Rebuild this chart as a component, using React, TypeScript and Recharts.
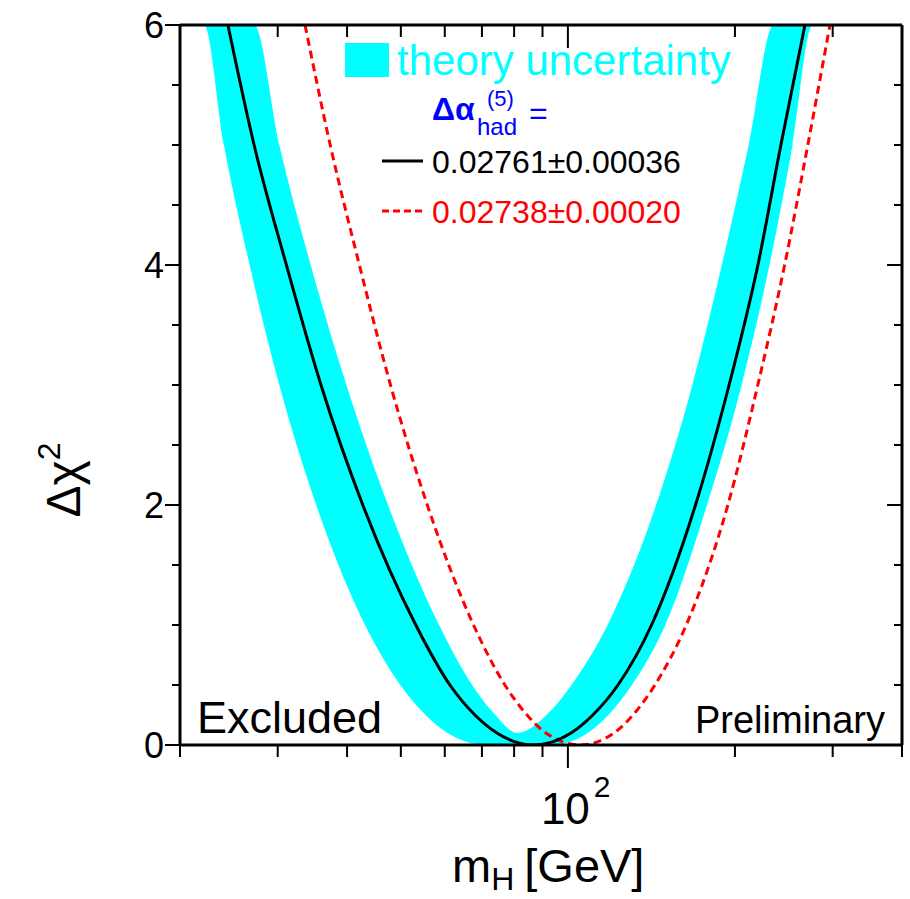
import React from "react";
import { ComposedChart, Area, Line, XAxis, YAxis } from "recharts";

// m_H values (GeV) and delta chi2
const bandUpperMass = [20, 27.2, 30.2, 34.4, 39.9, 47.4, 58.6, 67.2, 74.0, 81.0, 91.5, 101.5, 117.9, 144.2, 167.6, 189.4, 211.7, 234.9, 400];
const bandUpperChi2 = [6, 6, 5, 4, 3, 2, 1, 0.5, 0.25, 0.1, 0.25, 0.5, 1, 2, 3, 4, 5, 6, 6];

const bandLowerMass = [20, 22.1, 24.0, 26.7, 30.2, 35.2, 43.1, 49.9, 55.4, 60.7, 71.2, 93.6, 108.6, 118.3, 130.4, 149.8, 178.1, 205.6, 230.8, 254.0, 276.0, 400];
const bandLowerChi2 = [6, 6, 5, 4, 3, 2, 1, 0.5, 0.25, 0.1, 0, 0, 0.1, 0.25, 0.5, 1, 2, 3, 4, 5, 6, 6];

const blackMass = [24.4, 27.2, 31.1, 35.9, 42.7, 53.2, 61.3, 68.0, 74.5, 86.5, 101.3, 110.9, 123.1, 141.5, 169.8, 195.2, 220, 242, 267.4];
const blackChi2 = [6, 5, 4, 3, 2, 1, 0.5, 0.25, 0.1, 0, 0.1, 0.25, 0.5, 1, 2, 3, 4, 5, 6];

const redMass = [33.6, 37.3, 42.1, 47.9, 55.8, 67.6, 77.0, 84.4, 91.3, 105.2, 121.1, 131.0, 143.5, 163.4, 194.2, 219.9, 245.8, 270.6, 296.6];
const redChi2 = [6, 5, 4, 3, 2, 1, 0.5, 0.25, 0.1, 0, 0.1, 0.25, 0.5, 1, 2, 3, 4, 5, 6];

const xTicks = [20, 30, 40, 50, 60, 70, 80, 90, 100, 200, 300, 400];
const yTicks = [0, 0.5, 1, 1.5, 2, 2.5, 3, 3.5, 4, 4.5, 5, 5.5, 6];

const rows = (m: number[], c: number[]) => m.map((x, i) => ({ m: x, v: c[i] }));

const FONT = "'Liberation Sans', Arial, sans-serif";
const W = 910;
const H = 899;

const BottomTick = (props: any) => {
  const { x, y, payload } = props;
  const major = payload.value === 100;
  return (
    <g>
      <line x1={x} y1={y} x2={x} y2={y + (major ? 23 : 12)} stroke="#000" strokeWidth={2} />
      {major && (
        <text x={x - 27} y={y + 79} fontSize={44} fontFamily={FONT} fill="#000">
          10
          <tspan dx={4} dy={-27} fontSize={30}>2</tspan>
        </text>
      )}
    </g>
  );
};

const TopTick = (props: any) => {
  const { x, y, payload } = props;
  const major = payload.value === 100;
  return <line x1={x} y1={y} x2={x} y2={y + (major ? 23 : 12)} stroke="#000" strokeWidth={2} />;
};

const LeftTick = (props: any) => {
  const { x, y, payload } = props;
  const major = payload.value % 2 === 0;
  return (
    <g>
      <line x1={x} y1={y} x2={x - (major ? 15 : 8)} y2={y} stroke="#000" strokeWidth={2} />
      {major && (
        <text x={x - 16} y={y + 13} textAnchor="end" fontSize={36} fontFamily={FONT} fill="#000">
          {payload.value}
        </text>
      )}
    </g>
  );
};

const RightTick = (props: any) => {
  const { x, y, payload } = props;
  const major = payload.value % 2 === 0;
  return <line x1={x} y1={y} x2={x - (major ? 15 : 8)} y2={y} stroke="#000" strokeWidth={2} />;
};

const axisLine = { stroke: "#000", strokeWidth: 3 };

// frame axes (top + right), drawn in a second chart on top of the filled band
const FrameChart = () => (
  <ComposedChart width={W} height={H} margin={{ top: 24, right: 7, bottom: 154, left: 180 }}>
    <XAxis
      xAxisId="top"
      orientation="top"
      dataKey="m"
      type="number"
      scale="log"
      domain={[20, 400]}
      allowDataOverflow
      ticks={xTicks}
      interval={0}
      tick={<TopTick />}
      tickLine={false}
      tickSize={0}
      tickMargin={0}
      axisLine={axisLine}
      height={1}
    />
    <YAxis
      yAxisId="right"
      orientation="right"
      type="number"
      domain={[0, 6]}
      allowDataOverflow
      ticks={yTicks}
      interval={0}
      tick={<RightTick />}
      tickLine={false}
      tickSize={0}
      tickMargin={0}
      axisLine={axisLine}
      width={1}
    />
  </ComposedChart>
);

const Labels = () => (
  <svg width={W} height={H} style={{ position: "absolute", left: 0, top: 0, pointerEvents: "none" }}>
    <g fontFamily={FONT}>
      <rect x={345} y={43} width={44} height={34} fill="#00ffff" />
      <text x={397} y={75} fontSize={42} fill="#00ffff">theory uncertainty</text>
      <text x={432} y={120} fontSize={32} fill="#0000ff" fontWeight="bold">Δα</text>
      <text x={477} y={135} fontSize={24} fill="#0000ff">had</text>
      <text x={487} y={106} fontSize={22} fill="#0000ff">(5)</text>
      <text x={529} y={124} fontSize={32} fill="#0000ff">=</text>
      <line x1={382} y1={161} x2={423} y2={161} stroke="#000" strokeWidth={3} />
      <text x={432} y={173} fontSize={32} fill="#000">0.02761±0.00036</text>
      <line x1={382} y1={211} x2={423} y2={211} stroke="#ff0000" strokeWidth={3} strokeDasharray="7 4" />
      <text x={432} y={223} fontSize={32} fill="#ff0000">0.02738±0.00020</text>
      <text x={197} y={733} fontSize={45} fill="#000">Excluded</text>
      <text x={885} y={733} fontSize={38} fill="#000" textAnchor="end">Preliminary</text>
      <text x={452} y={882} fontSize={47} fill="#000">
        m<tspan fontSize={32} dy={8}>H</tspan>
        <tspan fontSize={47} dy={-8} dx={10}>[GeV]</tspan>
      </text>
      <text x={80} y={480} fontSize={48} fill="#000" textAnchor="middle" transform="rotate(-90 80 480)">
        Δχ<tspan fontSize={32} dy={-20}>2</tspan>
      </text>
    </g>
  </svg>
);

export default function App() {
  return (
    <div style={{ position: "absolute", left: 0, top: 0, width: W, height: H, background: "#fff" }}>
      <ComposedChart width={W} height={H} margin={{ top: 25, right: 8, bottom: 0, left: 0 }}>
        <XAxis
          dataKey="m"
          type="number"
          scale="log"
          domain={[20, 400]}
          allowDataOverflow
          ticks={xTicks}
          interval={0}
          tick={<BottomTick />}
          tickLine={false}
          tickSize={0}
          tickMargin={0}
          axisLine={axisLine}
          height={154}
        />
        <YAxis
          type="number"
          domain={[0, 6]}
          allowDataOverflow
          ticks={yTicks}
          interval={0}
          tick={<LeftTick />}
          tickLine={false}
          tickSize={0}
          tickMargin={0}
          axisLine={axisLine}
          width={180}
        />
        <Area
          data={rows(bandUpperMass, bandUpperChi2)}
          dataKey="v"
          type="monotone"
          fill="#00ffff"
          fillOpacity={1}
          stroke="none"
          isAnimationActive={false}
        />
        <Area
          data={rows(bandLowerMass, bandLowerChi2)}
          dataKey="v"
          type="monotone"
          fill="#ffffff"
          fillOpacity={1}
          stroke="none"
          isAnimationActive={false}
        />
        <Line
          data={rows(redMass, redChi2)}
          dataKey="v"
          type="monotone"
          stroke="#ff0000"
          strokeWidth={3}
          strokeDasharray="8 5"
          dot={false}
          isAnimationActive={false}
        />
        <Line
          data={rows(blackMass, blackChi2)}
          dataKey="v"
          type="monotone"
          stroke="#000"
          strokeWidth={3}
          dot={false}
          isAnimationActive={false}
        />
      </ComposedChart>
      <div style={{ position: "absolute", left: 0, top: 0, pointerEvents: "none" }}>
        <FrameChart />
      </div>
      <Labels />
    </div>
  );
}
